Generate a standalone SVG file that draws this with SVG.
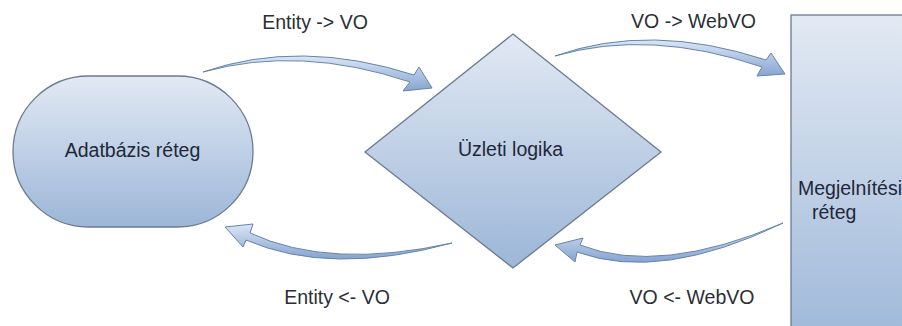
<svg xmlns="http://www.w3.org/2000/svg" width="902" height="326" viewBox="0 0 902 326">
  <defs>
    <linearGradient id="nodeFill" x1="0" y1="0" x2="0" y2="1">
      <stop offset="0" stop-color="#e2e9f3"/>
      <stop offset="1" stop-color="#9cb6d8"/>
    </linearGradient>
    <linearGradient id="arrowFill" x1="0" y1="0" x2="0" y2="1">
      <stop offset="0" stop-color="#dbe6f5"/>
      <stop offset="1" stop-color="#86a4d0"/>
    </linearGradient>
    <style>
      .node { fill: url(#nodeFill); stroke: #6b7a90; stroke-width: 1.3; }
      .flow { fill: url(#arrowFill); stroke: #6683ad; stroke-width: 1; stroke-linejoin: round; }
      .label { font-family: "Liberation Sans", Arial, sans-serif; font-size: 19.5px; fill: #2b2f36; }
      .title { font-family: "Liberation Sans", Arial, sans-serif; font-size: 19.5px; fill: #1f2838; }
    </style>
  </defs>

  <rect width="902" height="326" fill="#ffffff"/>

  <!-- data layer -->
  <g id="adatbazis">
    <rect class="node" x="13" y="76" width="240" height="151" rx="75.5" ry="75.5"/>
    <text class="title" x="132.5" y="157" text-anchor="middle">Adatbázis réteg</text>
  </g>

  <!-- business logic -->
  <g id="uzleti-logika">
    <polygon class="node" points="513,34 661,152 513,268 365,152"/>
    <text class="title" x="510.5" y="156" text-anchor="middle">Üzleti logika</text>
  </g>

  <!-- presentation layer -->
  <g id="megjelenites">
    <rect class="node" x="791" y="15" width="140" height="340"/>
    <text class="title" x="798" y="195">Megjelnítési</text>
    <text class="title" x="812" y="219">réteg</text>
  </g>

  <!-- curved block arrows between the layers -->
  <g id="connectors">
    <path class="flow" d="M203,72 Q300,38.5 414,75 L419,67 L432,88 L403,91 L410,82 Q300,45 203,72 Z"/>
    <path class="flow" d="M555,56 Q650,22 766,60 L771,53 L785,74 L757,76 L762,67 Q650,28.5 555,56 Z"/>
    <path class="flow" d="M452,243 Q330,270 250,233 L253,224 L225,227 L243,247 L246,240 Q330,276.5 452,243 Z"/>
    <path class="flow" d="M783,223 Q660,276 580,245 L583,238 L555,245 L575,262 L577,252 Q660,282.5 783,223 Z"/>
  </g>

  <!-- transformation labels -->
  <g id="labels">
    <text class="label" x="315" y="29" text-anchor="middle">Entity -&gt; VO</text>
    <text class="label" x="693.5" y="28" text-anchor="middle">VO -&gt; WebVO</text>
    <text class="label" x="337" y="304" text-anchor="middle">Entity &lt;- VO</text>
    <text class="label" x="692" y="304" text-anchor="middle">VO &lt;- WebVO</text>
  </g>
</svg>
